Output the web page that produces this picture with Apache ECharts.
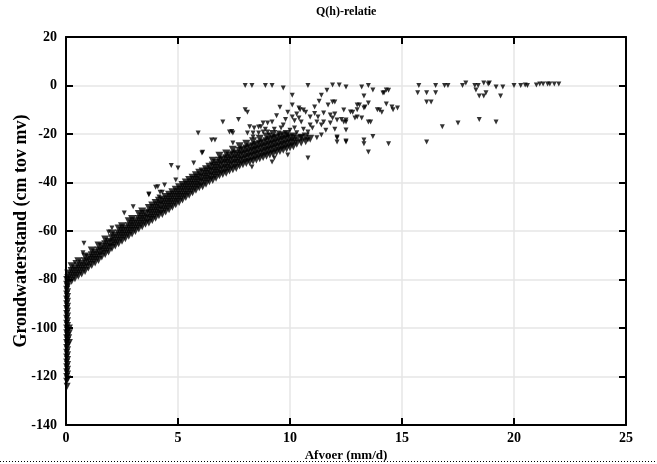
<!DOCTYPE html>
<html>
<head>
<meta charset="utf-8">
<script src="https://cdn.jsdelivr.net/npm/echarts@6/dist/echarts.min.js"></script>
<style>html,body{margin:0;padding:0;background:#fff}#c{width:657px;height:464px}</style>
</head>
<body>
<div id="c"></div>
<script>
const chartTitle = 'Q(h)-relatie';
const xName = 'Afvoer (mm/d)';
const yName = 'Grondwaterstand (cm tov mv)';
const xTicks = [0, 5, 10, 15, 20, 25];
const yTicks = [-140, -120, -100, -80, -60, -40, -20, 0, 20];

// points at near-zero discharge (vertical stroke)
const verticalPts = [
[0.03,-80],[0.03,-82],[0.07,-83],[0.03,-84],[0.07,-85],[0.03,-86],[0.07,-87],[0.03,-88],[0.07,-89],[0.03,-90],
[0.07,-91],[0.03,-92],[0.07,-93],[0.03,-94],[0.07,-95],[0.03,-96],[0.07,-97],[0.03,-98],[0.07,-99],[0.03,-100],
[0.15,-100],[0.07,-101],[0.15,-102],[0.03,-102],[0.12,-104],[0.07,-103],[0.03,-104],[0.15,-106],[0.07,-105],[0.03,-106],
[0.07,-107],[0.03,-108],[0.07,-109],[0.03,-110],[0.07,-111],[0.03,-112],[0.07,-113],[0.03,-114],[0.07,-115],[0.03,-116],
[0.07,-117],[0.03,-118],[0.07,-119],[0.03,-120],[0.07,-121],[0.03,-122],[0.05,-124]
];

// main dense band
const bandPts = [
[0.1,-81.5],[0.1,-79.5],[0.1,-77.5],
[0.25,-80.5],[0.25,-78.5],[0.25,-76.5],[0.25,-74.5],
[0.4,-79.5],[0.4,-77.5],[0.4,-75.5],
[0.55,-78.5],[0.55,-76.5],[0.55,-74.5],[0.55,-72.5],
[0.7,-77.5],[0.7,-75.5],[0.7,-73.5],
[0.85,-76.5],[0.85,-74.5],[0.85,-72.5],[0.85,-70.5],
[1.0,-75],[1.0,-73],[1.0,-71],
[1.15,-74],[1.15,-72],[1.15,-70],[1.15,-68],
[1.3,-73],[1.3,-71],[1.3,-69],
[1.45,-72],[1.45,-70],[1.45,-68],[1.45,-66],
[1.6,-70.5],[1.6,-68.5],[1.6,-66.5],
[1.75,-69.5],[1.75,-67.5],[1.75,-65.5],[1.75,-63.5],
[1.9,-68.5],[1.9,-66.5],[1.9,-64.5],
[2.05,-67],[2.05,-65],[2.05,-63],[2.05,-61],
[2.2,-66],[2.2,-64],[2.2,-62],
[2.35,-65],[2.35,-63],[2.35,-61],[2.35,-59],
[2.5,-64],[2.5,-62],[2.5,-60],[2.5,-58],
[2.65,-63],[2.65,-61],[2.65,-59],
[2.8,-62],[2.8,-60],[2.8,-58],[2.8,-56],
[2.95,-61],[2.95,-59],[2.95,-57],[2.95,-55],
[3.1,-60],[3.1,-58],[3.1,-56],
[3.25,-59],[3.25,-57],[3.25,-55],[3.25,-53],
[3.4,-58],[3.4,-56],[3.4,-54],[3.4,-52],
[3.55,-57],[3.55,-55],[3.55,-53],
[3.7,-56.5],[3.7,-54.5],[3.7,-52.5],[3.7,-50.5],
[3.85,-55.5],[3.85,-53.5],[3.85,-51.5],[3.85,-49.5],
[4.0,-54.5],[4.0,-52.5],[4.0,-50.5],[4.0,-48.5],
[4.15,-53.5],[4.15,-51.5],[4.15,-49.5],[4.15,-47.5],
[4.3,-53],[4.3,-51],[4.3,-49],[4.3,-47],
[4.45,-52],[4.45,-50],[4.45,-48],[4.45,-46],
[4.6,-51],[4.6,-49],[4.6,-47],[4.6,-45],
[4.75,-50],[4.75,-48],[4.75,-46],[4.75,-44],
[4.9,-49],[4.9,-47],[4.9,-45],[4.9,-43],
[5.05,-48],[5.05,-46],[5.05,-44],[5.05,-42],
[5.2,-47],[5.2,-45],[5.2,-43],[5.2,-41],
[5.35,-46],[5.35,-44],[5.35,-42],[5.35,-40],
[5.5,-45],[5.5,-43],[5.5,-41],[5.5,-39],
[5.65,-44],[5.65,-42],[5.65,-40],[5.65,-38],
[5.8,-43],[5.8,-41],[5.8,-39],[5.8,-37],
[5.95,-42],[5.95,-40],[5.95,-38],[5.95,-36],
[6.1,-41.5],[6.1,-39.5],[6.1,-37.5],[6.1,-35.5],
[6.25,-40.5],[6.25,-38.5],[6.25,-36.5],[6.25,-34.5],
[6.4,-39.5],[6.4,-37.5],[6.4,-35.5],[6.4,-33.5],
[6.55,-39],[6.55,-37],[6.55,-35],[6.55,-33],[6.55,-31],
[6.7,-38],[6.7,-36],[6.7,-34],[6.7,-32],
[6.85,-37],[6.85,-35],[6.85,-33],[6.85,-31],[6.85,-29],
[7.0,-36.5],[7.0,-34.5],[7.0,-32.5],[7.0,-30.5],
[7.15,-36],[7.15,-34],[7.15,-32],[7.15,-30],[7.15,-28],
[7.3,-35],[7.3,-33],[7.3,-31],[7.3,-29],
[7.45,-34.5],[7.45,-32.5],[7.45,-30.5],[7.45,-28.5],[7.45,-26.5],
[7.6,-34],[7.6,-32],[7.6,-30],[7.6,-28],
[7.75,-33],[7.75,-31],[7.75,-29],[7.75,-27],[7.75,-25],
[7.9,-32.5],[7.9,-30.5],[7.9,-28.5],[7.9,-26.5],
[8.05,-32],[8.05,-30],[8.05,-28],[8.05,-26],[8.05,-24],
[8.2,-31.5],[8.2,-29.5],[8.2,-27.5],[8.2,-25.5],
[8.35,-31],[8.35,-29],[8.35,-27],[8.35,-25],[8.35,-23],
[8.5,-30.5],[8.5,-28.5],[8.5,-26.5],[8.5,-24.5],
[8.65,-30],[8.65,-28],[8.65,-26],[8.65,-24],[8.65,-22],
[8.8,-29.5],[8.8,-27.5],[8.8,-25.5],[8.8,-23.5],
[8.95,-29],[8.95,-27],[8.95,-25],[8.95,-23],[8.95,-21],
[9.1,-28.5],[9.1,-26.5],[9.1,-24.5],[9.1,-22.5],
[9.25,-28],[9.25,-26],[9.25,-24],[9.25,-22],[9.25,-20],
[9.4,-27.5],[9.4,-25.5],[9.4,-23.5],[9.4,-21.5],
[9.55,-27],[9.55,-25],[9.55,-23],[9.55,-21],
[9.7,-26.5],[9.7,-24.5],[9.7,-22.5],[9.7,-20.5],
[9.85,-26],[9.85,-24],[9.85,-22],[9.85,-20],
[10.0,-25.5],[10.0,-23.5],[10.0,-21.5],
[10.15,-25],[10.15,-23],[10.15,-21],
[10.3,-24],[10.3,-22],
[10.5,-23.5],[10.5,-21.5],
[10.7,-23],[10.7,-21],
[10.9,-22]
];

// scattered points around and above the band
const scatterPts = [
[0.8,-65],[0.76,-69],[0.4,-73],[1.9,-60.4],[2.05,-58.8],[2.6,-52.6],[3.0,-50],[3.7,-45],[4.2,-44],[4.15,-46],
[3.7,-44.7],[4.1,-41.8],[4.4,-41],[4.0,-42],[4.3,-44],[4.9,-39],[4.7,-33],[5.0,-34],[5.7,-32],[6.1,-27.5],
[5.9,-19.6],[6.5,-22.5],[6.65,-22.5],[7.0,-15],[7.4,-19],[7.45,-19.6],[7.7,-14],[8.0,0],[8.3,0],[8.9,0],
[9.2,0],[9.7,-1],[10.1,-4],[8.0,-10],[8.1,-11],[8.2,-17],[8.35,-19.6],[8.6,-19.6],[8.7,-17],[9.0,-15.5],
[8.8,-15.5],[9.2,-15],[9.55,-9],[9.9,-11],[10.1,-13],[10.4,-13.4],[10.5,-15],[10.45,-10],[10.7,-11],[10.8,0],
[10.4,-9.3],[11.1,-8.9],[11.7,-8],[12.0,-6.8],[11.4,-4],[11.65,-2],[11.25,-13],[11.5,-11.3],[11.8,-12.2],[12.5,-14.2],
[8.4,-17.5],[9.7,-16.3],[10.9,-16.3],[11.2,-15],[11.5,-15],[7.3,-19.2],[8.1,-19.6],[8.8,-19.2],[9.5,-19.6],[9.9,-20.4],
[10.5,-21.2],[10.8,-22.5],[11.4,-20.4],[12.1,-21.2],[12.5,-22.9],[10.8,-29.9],[9.9,-28.7],[9.3,-29.9],[8.3,-33.6],[9.2,-31.5],
[6.07,-27.8],[7.45,-23.7],[10.6,-10.1],[8.6,-17.1],[9.0,-19.2],[8.35,-21.2],[10.2,-17.5],[11.0,-17.5],[10.8,-19.2],[11.4,-16.3],
[9.3,-18],[9.6,-17.5],[10.0,-18.5],[10.3,-19.5],[10.6,-18],[9.1,-20.5],[8.9,-18],[10.2,-14.5],[9.8,-14],[10.9,-13],
[11.1,-11.5],[10.3,-11.8],[9.4,-12.5],[11.6,-18.5],[11.2,-21.5],[10.1,-8],[11.3,-6.5],[12.0,-18],
[11.9,0.2],[12.2,0.2],[12.5,-0.6],[13.2,-0.6],[13.5,0],[13.7,-1.9],[13.3,-4.3],[14.2,-3],[14.4,-2],[11.9,-6.8],
[13.1,-8],[13.5,-7.2],[14.3,-7.6],[13.3,-9.3],[13.0,-10],[12.8,-11],[13.9,-10],[14.1,-11],[14.6,-10],[14.8,-9.3],
[12.0,-11.8],[11.9,-13.4],[12.3,-14],[12.9,-13.4],[13.2,-13.4],[12.5,-15],[13.6,-15],[12.5,-18.4],[12.1,-21.6],[12.1,-23.3],
[12.5,-23.3],[13.3,-22.5],[13.3,-24],[13.7,-21],[14.4,-24],[13.5,-27.4],[14.3,-1.9],[14.15,-3.1],[13.0,-8],[12.4,-10.1],
[12.7,-10.9],[13.35,-8.9],[14.0,-10.1],[14.55,-8.9],[13.0,-13],[13.5,-15],[12.4,-15],[12.1,-14.2],[11.8,-15.5],
[15.75,0],[16.5,0],[15.7,-3],[16.1,-3],[16.5,-3],[16.1,-6.8],[16.3,-6.8],[16.1,-23.3],[16.9,0],[17.05,0],
[17.7,0],[17.85,1],[18.25,0],[18.4,0],[18.3,-1.9],[18.65,1],[18.9,1],[19.2,-0.6],[19.5,-0.6],[19.4,-4.3],
[18.45,-4.3],[18.65,-4.3],[18.75,-3],[20.0,0],[20.3,0],[20.6,0],[16.8,-17],[17.5,-15.5],[18.45,-14],[19.2,-15],
[21.0,0.2],[21.15,0.6],[21.3,0.6],[21.5,0.6],[21.6,0.6],[21.8,0.6],[22.0,0.6],[18.85,0.6],[20.5,0.2]
];

const FONT = "'Liberation Serif', 'Times New Roman', serif";
const chart = echarts.init(document.getElementById('c'), null, {renderer: 'canvas'});

const axisLineStyle = {color: '#000', width: 2};
const tickStyle = {show: true, inside: true, length: 7, lineStyle: {color: '#000', width: 2}};
const splitStyle = {show: true, lineStyle: {color: '#e6e6e6', width: 1.5}};
const labelStyle = {color: '#000', fontFamily: FONT, fontWeight: 'bold', fontSize: 14};

const pointSeries = (data, size) => ({
  type: 'scatter', data: data, symbol: 'triangle', symbolRotate: 180, symbolSize: size,
  itemStyle: {color: '#000'}, silent: true, animation: false
});

chart.setOption({
  backgroundColor: '#fff',
  animation: false,
  grid: {left: 66, right: 31, top: 37, bottom: 39, containLabel: false, outerBoundsMode: 'none'},
  xAxis: [{
    type: 'value', min: xTicks[0], max: xTicks[xTicks.length-1], interval: 5, position: 'bottom',
    name: xName, nameLocation: 'middle', nameGap: 24, nameMoveOverlap: false,
    nameTextStyle: {color: '#000', fontFamily: FONT, fontWeight: 'bold', fontSize: 13},
    axisLine: {show: true, onZero: false, lineStyle: axisLineStyle}, axisTick: tickStyle,
    axisLabel: Object.assign({margin: 6}, labelStyle), splitLine: splitStyle
  }, {
    type: 'value', min: xTicks[0], max: xTicks[xTicks.length-1], interval: 5, position: 'top',
    axisLine: {show: true, onZero: false, lineStyle: axisLineStyle}, axisTick: tickStyle,
    axisLabel: {show: false}, splitLine: {show: false}
  }],
  yAxis: [{
    type: 'value', min: yTicks[0], max: yTicks[yTicks.length-1], interval: 20, position: 'left',
    name: yName, nameLocation: 'middle', nameGap: 36, nameRotate: 90, nameMoveOverlap: false,
    nameTextStyle: {color: '#000', fontFamily: FONT, fontWeight: 'bold', fontSize: 18},
    axisLine: {show: true, onZero: false, lineStyle: axisLineStyle}, axisTick: tickStyle,
    axisLabel: Object.assign({margin: 9}, labelStyle), splitLine: splitStyle
  }, {
    type: 'value', min: yTicks[0], max: yTicks[yTicks.length-1], interval: 20, position: 'right',
    axisLine: {show: true, onZero: false, lineStyle: axisLineStyle}, axisTick: tickStyle,
    axisLabel: {show: false}, splitLine: {show: false}
  }],
  graphic: [{
    type: 'text', left: 346 - 30, top: 6,
    style: {text: chartTitle, fill: '#000', font: "bold 12px 'Liberation Serif', serif"}
  }, {
    type: 'line', shape: {x1: 0, y1: 461.5, x2: 657, y2: 461.5},
    style: {stroke: '#000', lineWidth: 1, lineDash: [1, 2]}
  }],
  series: [pointSeries(verticalPts, 7), pointSeries(bandPts, 8), pointSeries(scatterPts, 5)]
});
</script>
</body>
</html>
